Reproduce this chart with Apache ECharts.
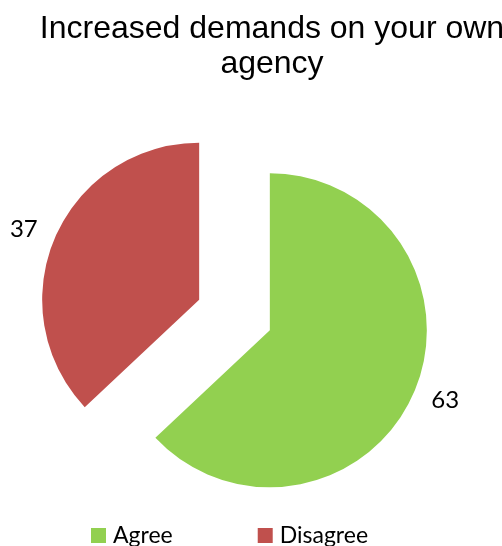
<!DOCTYPE html>
<html>
<head>
<meta charset="utf-8">
<script src="https://cdn.jsdelivr.net/npm/echarts@6/dist/echarts.min.js"></script>
<style>
  html, body { margin: 0; padding: 0; background: #fff; }
  #chart { width: 502px; height: 546px; }
</style>
</head>
<body>
<div id="chart"></div>
<script>
// Survey response shares
const categories = ['Agree', 'Disagree'];
const values = [63, 37];
const colors = ['#92D050', '#C0504D'];

const chart = echarts.init(document.getElementById('chart'), null, { renderer: 'canvas' });

chart.setOption({
  animation: false,
  backgroundColor: '#ffffff',
  title: {
    text: 'Increased demands on your own\nagency',
    left: 267,
    top: 7,
    textAlign: 'center',
    textStyle: {
      fontFamily: 'Liberation Sans, Arial, sans-serif',
      fontSize: 32,
      fontWeight: 'normal',
      color: '#000',
      lineHeight: 35
    }
  },
  legend: {
    data: categories,
    bottom: -1,
    left: 91,
    padding: 0,
    icon: 'rect',
    itemWidth: 15,
    itemHeight: 15,
    itemGap: 85,
    selectedMode: false,
    textStyle: {
      fontFamily: 'Lato, Open Sans, sans-serif',
      fontSize: 23,
      color: '#000',
      padding: [0, 0, 0, 2]
    }
  },
  series: [{
    type: 'pie',
    center: [234.5, 315],
    radius: [0, 157],
    startAngle: 90,
    clockwise: true,
    selectedMode: 'multiple',
    selectedOffset: 38.5,
    avoidLabelOverlap: false,
    emphasis: { disabled: true },
    label: {
      show: true,
      position: 'outside',
      formatter: '{c}',
      fontFamily: 'Lato, Open Sans, sans-serif',
      fontSize: 24,
      color: '#000'
    },
    labelLine: { show: false, length: 20, length2: -6 },
    itemStyle: { borderWidth: 0 },
    data: categories.map((name, i) => ({
      name: name,
      value: values[i],
      selected: true,
      itemStyle: { color: colors[i] }
    }))
  }]
});
</script>
</body>
</html>
